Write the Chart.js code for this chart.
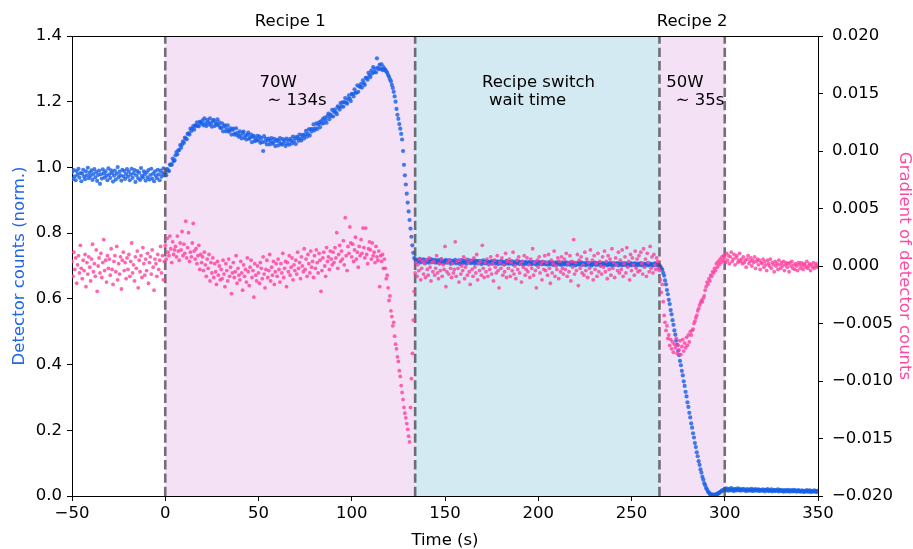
<!DOCTYPE html>
<html>
<head>
<meta charset="utf-8">
<script src="https://cdn.jsdelivr.net/npm/chart.js@4.4.1/dist/chart.umd.min.js"></script>
<style>
  html, body { margin: 0; padding: 0; background: #ffffff; }
  canvas { display: block; }
</style>
</head>
<body>
<canvas id="chart" width="913" height="549"></canvas>
<script>
// Sampling interval of the detector trace (seconds).
const SAMPLE_STEP = 0.5;

// Start time of each recorded phase (s).
const phaseStarts = { pre: -50, recipe1: 0, wait: 134, recipe2: 265, post: 300 };

// Phase boundaries marked with dashed lines (s).
const phaseEdges = [0, 134, 265, 300];

// Tick labels.
const timeTicks = [-50, 0, 50, 100, 150, 200, 250, 300, 350];
const countTicks = [0, 0.2, 0.4, 0.6, 0.8, 1.0, 1.2, 1.4];
const gradTicks = [-0.02, -0.015, -0.01, -0.005, 0, 0.005, 0.01, 0.015, 0.02];

// Normalised detector counts, one value per sample.
const countsPre = [
  0.986,0.965,0.992,0.973,0.961,0.989,0.978,0.996,0.969,0.983,0.958,0.981,0.993,0.972,0.964,0.988,0.976,0.999,0.967,0.984,
  0.974,0.991,0.962,0.980,0.995,0.970,0.986,0.959,0.977,0.990,0.950,0.979,0.966,0.994,0.982,0.969,0.988,0.975,0.961,0.997,
  0.979,0.968,0.991,0.983,0.957,0.975,0.990,0.963,0.981,1.001,0.970,0.987,0.976,0.960,0.993,0.973,0.989,0.965,0.980,0.995,
  0.972,0.987,0.961,0.978,0.996,0.968,0.982,0.992,0.956,0.976,0.989,0.967,0.984,0.962,0.998,0.974,0.969,0.988,0.979,0.960,
  0.985,0.970,0.992,0.963,0.977,0.996,0.966,0.981,0.958,0.988,0.975,0.967,0.993,0.979,0.961,0.990,0.972,0.983,0.997,0.976
];
const countsRecipe1 = [
  0.982,0.976,0.995,0.991,0.989,1.008,1.009,1.008,1.027,1.019,1.022,1.037,1.047,1.040,1.052,1.053,1.068,1.060,1.070,1.079,
  1.075,1.091,1.088,1.086,1.102,1.104,1.100,1.118,1.111,1.118,1.126,1.115,1.128,1.126,1.137,1.127,1.125,1.139,1.137,1.133,
  1.143,1.128,1.149,1.134,1.126,1.145,1.138,1.130,1.149,1.134,1.124,1.141,1.145,1.126,1.137,1.131,1.146,1.128,1.137,1.121,
  1.120,1.134,1.110,1.124,1.128,1.110,1.117,1.128,1.109,1.112,1.119,1.100,1.114,1.118,1.100,1.104,1.119,1.098,1.105,1.093,
  1.110,1.097,1.088,1.105,1.109,1.090,1.098,1.085,1.099,1.106,1.087,1.091,1.100,1.077,1.093,1.096,1.080,1.088,1.082,1.096,
  1.083,1.094,1.075,1.089,1.077,1.050,1.095,1.078,1.087,1.070,1.083,1.088,1.070,1.080,1.089,1.072,1.076,1.087,1.065,1.081,
  1.084,1.067,1.079,1.089,1.072,1.069,1.086,1.074,1.082,1.065,
  1.088,1.072,1.082,1.069,1.087,1.081,1.073,1.094,1.079,1.088,1.071,1.093,1.089,1.081,1.100,1.088,1.082,1.099,1.096,1.088,
  1.101,1.111,1.094,1.102,1.116,1.097,1.117,1.109,1.117,1.131,1.113,1.119,1.134,1.117,1.130,1.137,1.122,1.140,1.133,1.147,
  1.135,1.152,1.145,1.136,1.156,1.164,1.147,1.161,1.156,1.175,1.155,1.169,1.177,1.168,1.162,1.186,1.183,1.176,1.196,1.185,
  1.198,1.185,1.199,1.211,1.197,1.194,1.208,1.219,1.209,1.202,1.224,1.223,1.216,1.238,1.228,1.227,1.250,1.230,1.247,1.245,
  1.254,1.243,1.265,1.257,1.251,1.273,1.272,1.267,1.288,1.280,1.275,1.295,1.286,1.305,1.290,1.301,1.289,1.332,1.304,1.299,
  1.313,1.301,1.314,1.296,1.305,1.298,
  1.298,1.292,1.288,1.281,1.276,1.268,1.262,1.251,1.242,1.230,1.216,1.200,1.178,1.160,1.148,1.132,1.118,1.102,1.085,1.050,
  1.008,0.976,0.948,0.920,0.893,0.866,0.840,0.814,0.789,0.763,0.740,0.724
];
const countsWait = [
  0.721,0.716,0.712,0.719,0.714,0.722,0.711,0.717,0.713,0.720,0.715,0.709,0.718,0.713,0.719,0.710,0.716,0.721,0.712,0.717,
  0.713,0.719,0.710,0.716,0.712,0.718,0.708,0.715,0.720,0.711,0.716,0.709,0.714,0.719,0.710,0.715,0.712,0.718,0.707,0.714,
  0.716,0.710,0.713,0.719,0.708,0.714,0.711,0.717,0.706,0.713,0.718,0.709,0.715,0.711,0.716,0.707,0.713,0.718,0.710,0.714,
  0.709,0.715,0.711,0.717,0.707,0.712,0.716,0.708,0.714,0.710,0.715,0.706,0.712,0.717,0.709,0.713,0.708,0.715,0.711,0.706,
  0.713,0.709,0.715,0.707,0.712,0.716,0.708,0.711,0.714,0.706,0.712,0.709,0.715,0.707,0.713,0.710,0.705,0.712,0.716,0.708,
  0.711,0.707,0.713,0.709,0.714,0.705,0.710,0.713,0.707,0.712,0.709,0.714,0.706,0.711,0.708,0.713,0.704,0.710,0.712,0.707,
  0.710,0.706,0.712,0.708,0.713,0.705,0.709,0.712,0.707,0.711,0.704,0.710,0.713,0.706,0.709,0.712,0.705,0.710,0.707,0.711,
  0.706,0.710,0.704,0.709,0.712,0.705,0.708,0.711,0.703,0.709,0.706,0.711,0.704,0.708,0.712,0.705,0.709,0.703,0.710,0.707,
  0.705,0.709,0.711,0.704,0.708,0.706,0.710,0.703,0.707,0.711,0.705,0.708,0.702,0.709,0.706,0.710,0.704,0.707,0.711,0.703,
  0.708,0.705,0.709,0.702,0.707,0.710,0.704,0.708,0.706,0.701,0.709,0.705,0.707,0.710,0.703,0.706,0.709,0.704,0.708,0.702,
  0.706,0.709,0.703,0.707,0.705,0.710,0.702,0.706,0.708,0.704,0.709,0.701,0.706,0.708,0.703,0.707,0.705,0.709,0.702,0.706,
  0.704,0.708,0.702,0.706,0.709,0.703,0.705,0.708,0.701,0.706,0.704,0.709,0.702,0.705,0.707,0.703,0.708,0.701,0.705,0.707,
  0.703,0.706,0.709,0.702,0.705,0.707,0.701,0.706,0.704,0.708,0.702,0.705,0.707,0.703,0.706,0.701,0.705,0.708,0.703,0.706,
  0.704,0.701
];
const countsRecipe2 = [
  0.701,0.698,0.693,0.689,0.679,0.671,0.656,0.644,0.627,0.614,0.597,0.584,0.566,0.553,0.535,0.521,0.504,0.491,0.473,0.460,
  0.442,0.429,0.411,0.398,0.381,0.367,0.349,0.335,0.317,0.303,0.285,0.271,0.253,0.239,0.221,0.208,0.191,0.178,0.161,0.149,
  0.133,0.121,0.106,0.095,0.081,0.071,0.058,0.050,0.039,0.033,0.024,0.020,0.013,0.011,0.006,0.006,0.003,0.004,0.002,0.004,
  0.003,0.006,0.005,0.009,0.009,0.013,0.013,0.017,0.016,0.019
];
const countsPost = [
  0.021,0.017,0.023,0.019,0.016,0.022,0.018,0.024,0.017,0.020,0.015,0.022,0.019,0.017,0.023,0.018,0.021,0.016,0.020,0.018,
  0.022,0.017,0.019,0.015,0.021,0.018,0.016,0.020,0.017,0.022,0.015,0.019,0.017,0.021,0.016,0.018,0.020,0.015,0.019,0.017,
  0.016,0.020,0.018,0.014,0.019,0.017,0.021,0.015,0.018,0.016,0.020,0.014,0.017,0.019,0.015,0.018,0.016,0.020,0.014,0.017,
  0.019,0.015,0.017,0.013,0.018,0.016,0.014,0.019,0.015,0.017,0.013,0.018,0.016,0.014,0.019,0.015,0.017,0.013,0.016,0.018,
  0.014,0.016,0.013,0.017,0.015,0.012,0.016,0.014,0.018,0.013,0.015,0.017,0.012,0.016,0.014,0.013,0.017,0.015,0.012,0.016,
  0.014
];

// Gradient of the detector counts, in units of 1e-3, one value per sample.
const gradPre = [
  0.4,-0.9,1.2,-0.3,0.7,-1.5,0.1,0.9,-0.6,1.8,-0.2,-1.1,0.5,-0.4,1.0,-1.8,0.3,-0.7,0.8,-0.1,
  -1.3,0.6,1.9,-0.5,0.2,-0.9,1.4,-2.2,0.0,0.7,-0.6,1.1,-1.0,0.3,2.3,-0.4,0.5,-1.4,0.9,-0.2,
  0.6,-0.8,1.5,-0.3,-1.6,0.4,0.9,-0.5,1.7,-1.2,0.2,-0.7,0.8,-2.0,0.5,1.2,-0.4,0.3,-1.1,0.7,
  -0.3,1.0,-0.9,0.4,2.0,-0.6,0.1,-1.3,0.8,-0.2,1.3,-1.9,0.5,-0.5,0.9,-1.0,1.6,0.2,-0.8,0.6,
  -0.4,1.1,-1.5,0.3,0.8,-0.7,1.4,-0.1,-2.1,0.6,0.2,-0.9,1.0,-0.3,0.5,1.7,-0.6,0.9,-1.2,0.4
];
const gradRecipe1 = [
  1.8,0.6,2.4,1.2,0.9,2.6,1.5,0.3,2.1,1.0,1.4,1.7,0.8,2.6,1.3,0.5,2.0,1.4,3.0,0.9,
  1.9,1.1,3.9,0.7,1.6,2.9,0.4,1.2,0.8,2.0,3.7,1.3,0.6,1.5,0.2,0.9,1.8,-0.3,1.0,0.3,
  0.8,-0.4,1.2,0.1,-0.9,0.6,-0.2,1.0,-1.3,0.3,-0.6,0.7,-1.0,0.2,-0.5,-1.6,0.4,-0.8,0.0,-1.2,
  -0.3,-1.1,0.5,-0.7,-1.8,0.2,-0.4,-1.3,0.6,-0.9,-0.1,-2.4,-0.6,0.3,-1.0,-0.5,0.9,-1.5,-0.2,-0.8,
  -1.2,0.4,-0.6,-2.1,0.1,-0.9,-0.3,-1.4,0.7,-0.5,-1.7,-0.1,0.5,-1.0,-0.4,-2.7,0.2,-0.8,-1.3,0.0,
  -0.6,-1.5,0.3,-0.2,-1.1,0.8,-0.7,-1.9,-0.3,0.5,-1.0,-0.4,1.0,-1.3,-0.1,-0.8,0.4,-1.6,-0.5,0.2,
  -0.9,0.6,-0.3,-1.4,0.2,-0.6,1.1,-1.0,-0.2,0.4,-1.8,0.3,-0.5,0.9,-0.8,-0.1,0.7,-1.2,0.1,-0.4,
  0.5,-0.7,1.2,-0.2,0.3,-1.1,0.8,0.0,-0.5,1.5,-0.3,0.6,-0.9,1.0,0.2,-0.6,1.3,-0.1,0.4,-1.0,
  0.9,-0.2,1.4,0.3,-0.6,1.1,0.5,-2.2,-0.4,0.7,1.2,0.0,-0.9,1.6,0.4,0.8,-0.3,1.3,0.6,0.1,
  1.2,0.3,1.6,0.7,2.9,-0.2,1.0,1.8,0.4,1.3,0.6,2.2,0.1,4.2,0.9,-0.4,1.7,1.1,3.4,2.0,
  0.8,1.9,0.4,1.4,2.5,0.6,1.2,-0.1,1.7,0.9,2.3,1.1,3.3,1.6,0.7,3.3,1.0,0.2,1.5,2.1,
  1.4,0.6,2.0,0.9,1.2,0.3,1.7,0.8,0.5,1.3,-1.8,0.9,0.4,1.0,-0.2,0.6,
  -0.2,-1.1,-0.8,-1.9,-3.0,-2.6,-3.9,-4.4,-5.2,-4.9,-6.1,-6.8,-7.2,-7.9,-8.3,-9.1,-9.6,-10.4,-11.0,-11.6,
  -12.3,-12.8,-13.2,-13.7,-14.2,-14.8,-15.3,-12.3,-9.8,-7.6,-4.7,-2.2
];
const gradWait = [
  -0.6,0.3,-0.9,0.1,-0.4,0.6,-1.2,-0.2,0.4,-0.7,0.2,-1.0,0.5,-0.3,-0.8,0.7,-0.1,-1.3,0.3,-0.5,
  0.4,-0.8,-0.2,0.9,-0.6,-1.1,0.2,-0.4,0.6,-0.9,0.1,-0.3,1.7,-1.8,-0.5,0.3,-0.7,0.5,-0.2,-1.0,
  0.2,-0.6,-0.3,2.1,-0.9,0.4,-0.2,-1.4,0.5,-0.7,0.0,-0.4,0.8,-1.1,-0.1,0.6,-0.8,0.3,-0.5,-1.6,
  0.5,-0.3,-0.9,0.7,-0.1,-0.6,1.0,-1.2,0.2,-0.4,0.4,-0.8,1.8,-0.2,-1.0,0.3,-0.5,0.6,-0.9,0.1,
  -0.3,0.8,-0.7,0.2,-1.3,0.5,-0.1,-0.6,0.9,-0.4,-1.9,0.3,-0.2,0.7,-0.8,0.1,-0.5,1.1,-1.0,0.4,
  -0.2,0.6,-0.9,0.3,-0.4,1.2,-0.7,0.0,-1.1,0.5,-0.3,0.8,-0.6,0.2,-1.4,0.4,-0.1,0.9,-0.8,-0.3,
  0.7,-0.5,0.1,-1.0,0.6,-0.2,1.5,-0.8,0.3,-0.4,-1.9,0.5,-0.1,0.8,-0.6,0.2,-1.2,0.4,-0.3,0.9,
  -0.4,0.3,-0.8,1.0,-0.2,-1.5,0.5,-0.6,0.2,1.3,-0.9,0.0,-0.3,0.7,-1.1,0.4,-0.5,0.8,-0.2,-0.7,
  0.6,-0.3,1.1,-0.9,0.2,-0.5,0.9,-1.3,0.4,-0.1,2.3,-0.7,0.3,-0.4,1.0,-1.7,0.5,-0.2,0.8,-0.6,
  0.1,-0.8,1.2,-0.4,0.6,-1.0,0.3,-0.2,1.4,-0.6,0.5,-1.2,0.9,-0.3,0.2,-0.9,1.1,-0.5,0.4,0.0,
  -0.7,0.8,-0.1,1.3,-0.5,0.4,-1.1,0.9,-0.3,0.6,-0.8,1.5,-0.2,0.3,-1.0,0.7,0.1,-0.4,1.2,-0.6,
  0.5,-0.3,1.4,-0.9,0.2,0.8,-0.6,1.6,-0.1,0.4,-1.2,1.0,-0.4,0.7,0.1,-0.8,1.3,-0.2,0.6,-0.5,
  0.9,-0.4,1.2,0.2,-0.7,1.5,-0.1,0.6,-0.9,1.1,0.3,-0.5,1.7,-0.2,0.8,-0.6,1.0,0.1,-0.3,0.7,
  0.4,-0.2
];
const gradRecipe2 = [
  -0.4,-1.2,-2.3,-1.6,-3.1,-4.3,-4.9,-5.6,-5.2,-6.3,-6.0,-6.9,-6.4,-7.2,-6.6,-7.5,-6.8,-7.1,-6.3,-7.6,
  -6.9,-7.3,-6.5,-7.7,-7.0,-6.4,-7.4,-6.7,-7.1,-6.2,-6.9,-6.0,-6.6,-5.7,-6.0,-5.6,-5.5,-5.0,-4.8,-4.5,
  -4.3,-3.9,-3.7,-3.4,-3.2,-3.0,-3.1,-2.8,-2.6,-2.1,-1.8,-1.4,-1.6,-1.1,-1.3,-0.8,-0.9,-0.5,-0.6,-0.2,
  -0.4,0.2,-0.1,0.4,0.1,0.6,0.3,0.8,0.5,0.9
];
const gradPost = [
  0.7,0.3,1.1,0.5,0.9,0.2,0.8,1.2,0.4,0.6,1.0,0.1,0.7,0.9,0.3,0.5,1.1,0.4,0.6,0.2,
  0.8,0.3,0.5,-0.1,0.6,0.9,0.2,0.4,0.7,0.0,0.5,0.3,0.8,-0.2,0.4,0.6,0.1,0.5,-0.3,0.3,
  0.2,0.6,-0.1,0.4,0.1,-0.4,0.5,0.2,0.0,0.6,-0.2,0.3,0.1,-0.5,0.4,0.0,0.2,-0.3,0.5,0.1,
  -0.2,0.3,0.0,0.4,-0.4,0.1,0.3,-0.1,0.2,-0.5,0.3,0.0,0.4,-0.2,0.1,-0.3,0.2,0.0,-0.4,0.3,
  0.1,-0.2,0.3,0.0,-0.3,0.2,0.1,-0.1,0.4,-0.2,0.0,0.2,-0.4,0.1,-0.1,0.3,-0.2,0.0,0.2,-0.1,
  0.0
];

// Shaded process phases (s).
const shadedPhases = [
  { from: 0, to: 134, kind: 'recipe' },
  { from: 134, to: 265, kind: 'wait' },
  { from: 265, to: 300, kind: 'recipe' }
];

// Phase captions above the plot and notes inside it (data coordinates on the left axis).
const phaseTitles = [
  { t: 67, text: 'Recipe 1' },
  { t: 282.5, text: 'Recipe 2' }
];
const phaseNotes = [
  { t: 50.5, v: 1.245, text: '70W' },
  { t: 54.8, v: 1.19, text: '\u223C 134s' },
  { t: 169.8, v: 1.245, text: 'Recipe switch' },
  { t: 173.6, v: 1.19, text: 'wait time' },
  { t: 268.6, v: 1.245, text: '50W' },
  { t: 273.7, v: 1.19, text: '\u223C 35s' }
];

const STYLE = {
  font: "'DejaVu Sans', 'Liberation Sans', sans-serif",
  fontSize: 16.5,
  counts: 'rgba(26, 96, 232, 0.82)',
  grad: 'rgba(255, 62, 158, 0.8)',
  countsLabel: 'rgb(32, 102, 235)',
  gradLabel: 'rgb(255, 72, 162)',
  shade: { recipe: '#f5e1f5', wait: '#d3eaf3' },
  edge: 'rgba(80, 78, 85, 0.8)'
};

function buildPoints(phases, scale) {
  const pts = [];
  phases.forEach(([start, values]) => {
    values.forEach((v, i) => pts.push({ x: start + i * SAMPLE_STEP, y: v * scale }));
  });
  return pts;
}

const countsPoints = buildPoints([
  [phaseStarts.pre, countsPre], [phaseStarts.recipe1, countsRecipe1], [phaseStarts.wait, countsWait],
  [phaseStarts.recipe2, countsRecipe2], [phaseStarts.post, countsPost]
], 1);
const gradPoints = buildPoints([
  [phaseStarts.pre, gradPre], [phaseStarts.recipe1, gradRecipe1], [phaseStarts.wait, gradWait],
  [phaseStarts.recipe2, gradRecipe2], [phaseStarts.post, gradPost]
], 1e-3);

const minusSign = s => s.replace('-', '\u2212');

const phaseDecor = {
  id: 'phaseDecor',
  beforeDatasetsDraw(chart) {
    const { ctx, chartArea: a, scales: { x } } = chart;
    ctx.save();
    shadedPhases.forEach(p => {
      const x0 = x.getPixelForValue(p.from);
      const x1 = x.getPixelForValue(p.to);
      ctx.fillStyle = STYLE.shade[p.kind];
      ctx.fillRect(x0, a.top, x1 - x0, a.bottom - a.top);
    });
    ctx.restore();
  },
  afterDatasetDraw(chart, args) {
    if (args.index !== 0) return;
    const { ctx, chartArea: a, scales: { x } } = chart;
    ctx.save();
    ctx.strokeStyle = STYLE.edge;
    ctx.lineWidth = 2.6;
    ctx.setLineDash([9.3, 4]);
    phaseEdges.forEach(t => {
      const px = x.getPixelForValue(t);
      ctx.beginPath();
      ctx.moveTo(px, a.bottom);
      ctx.lineTo(px, a.top);
      ctx.stroke();
    });
    ctx.restore();
  },
  afterDraw(chart) {
    const { ctx, chartArea: a, scales: { x, y } } = chart;
    ctx.save();
    // top frame line
    ctx.strokeStyle = '#000';
    ctx.lineWidth = 1;
    ctx.beginPath();
    ctx.moveTo(a.left, a.top + 0.5);
    ctx.lineTo(a.right, a.top + 0.5);
    ctx.stroke();

    ctx.font = `${STYLE.fontSize}px ${STYLE.font}`;
    ctx.fillStyle = '#000';
    ctx.textBaseline = 'alphabetic';
    ctx.textAlign = 'center';
    phaseTitles.forEach(p => ctx.fillText(p.text, x.getPixelForValue(p.t), a.top - 10));

    ctx.textAlign = 'left';
    phaseNotes.forEach(n => ctx.fillText(n.text, x.getPixelForValue(n.t), y.getPixelForValue(n.v)));

    // axis titles
    ctx.textAlign = 'center';
    ctx.fillText('Time (s)', (a.left + a.right) / 2, 545);

    const midY = (a.top + a.bottom) / 2;
    ctx.save();
    ctx.translate(23.5, midY);
    ctx.rotate(-Math.PI / 2);
    ctx.fillStyle = STYLE.countsLabel;
    ctx.fillText('Detector counts (norm.)', 0, 0);
    ctx.restore();

    ctx.save();
    ctx.translate(900, midY);
    ctx.rotate(Math.PI / 2);
    ctx.fillStyle = STYLE.gradLabel;
    ctx.fillText('Gradient of detector counts', 0, 0);
    ctx.restore();

    ctx.restore();
  }
};

const tickFont = { family: STYLE.font, size: STYLE.fontSize };
const axisGrid = { display: true, drawOnChartArea: false, drawTicks: true, tickLength: 5, tickWidth: 1, color: '#000' };
const axisBorder = { display: true, color: '#000', width: 1 };

new Chart(document.getElementById('chart'), {
  type: 'scatter',
  data: {
    datasets: [
      {
        label: 'Detector counts (norm.)',
        data: countsPoints,
        yAxisID: 'y',
        backgroundColor: STYLE.counts,
        borderWidth: 0,
        pointRadius: 2.1,
        order: 2
      },
      {
        label: 'Gradient of detector counts',
        data: gradPoints,
        yAxisID: 'y2',
        backgroundColor: STYLE.grad,
        borderWidth: 0,
        pointRadius: 1.9,
        order: 1
      }
    ]
  },
  options: {
    responsive: false,
    animation: false,
    devicePixelRatio: 1,
    layout: { padding: { top: 36, left: 0, right: 0, bottom: 0 } },
    plugins: { legend: { display: false }, tooltip: { enabled: false } },
    scales: {
      x: {
        type: 'linear', position: 'bottom', min: -50, max: 350,
        afterBuildTicks: s => { s.ticks = timeTicks.map(v => ({ value: v })); },
        afterFit: s => { s.height = 53; },
        ticks: { autoSkip: false, maxRotation: 0, padding: 3, color: '#000', font: tickFont,
                 callback: v => minusSign(String(v)) },
        grid: axisGrid, border: axisBorder
      },
      y: {
        type: 'linear', position: 'left', min: 0, max: 1.4,
        afterBuildTicks: s => { s.ticks = countTicks.map(v => ({ value: v })); },
        afterFit: s => { s.width = 72; },
        ticks: { autoSkip: false, padding: 5, color: '#000', font: tickFont,
                 callback: v => v.toFixed(1) },
        grid: axisGrid, border: axisBorder
      },
      y2: {
        type: 'linear', position: 'right', min: -0.02, max: 0.02,
        afterBuildTicks: s => { s.ticks = gradTicks.map(v => ({ value: v })); },
        afterFit: s => { s.width = 95; },
        ticks: { autoSkip: false, padding: 9, color: '#000', font: tickFont,
                 callback: v => minusSign(v.toFixed(3)) },
        grid: axisGrid, border: axisBorder
      }
    }
  },
  plugins: [phaseDecor]
});
</script>
</body>
</html>
